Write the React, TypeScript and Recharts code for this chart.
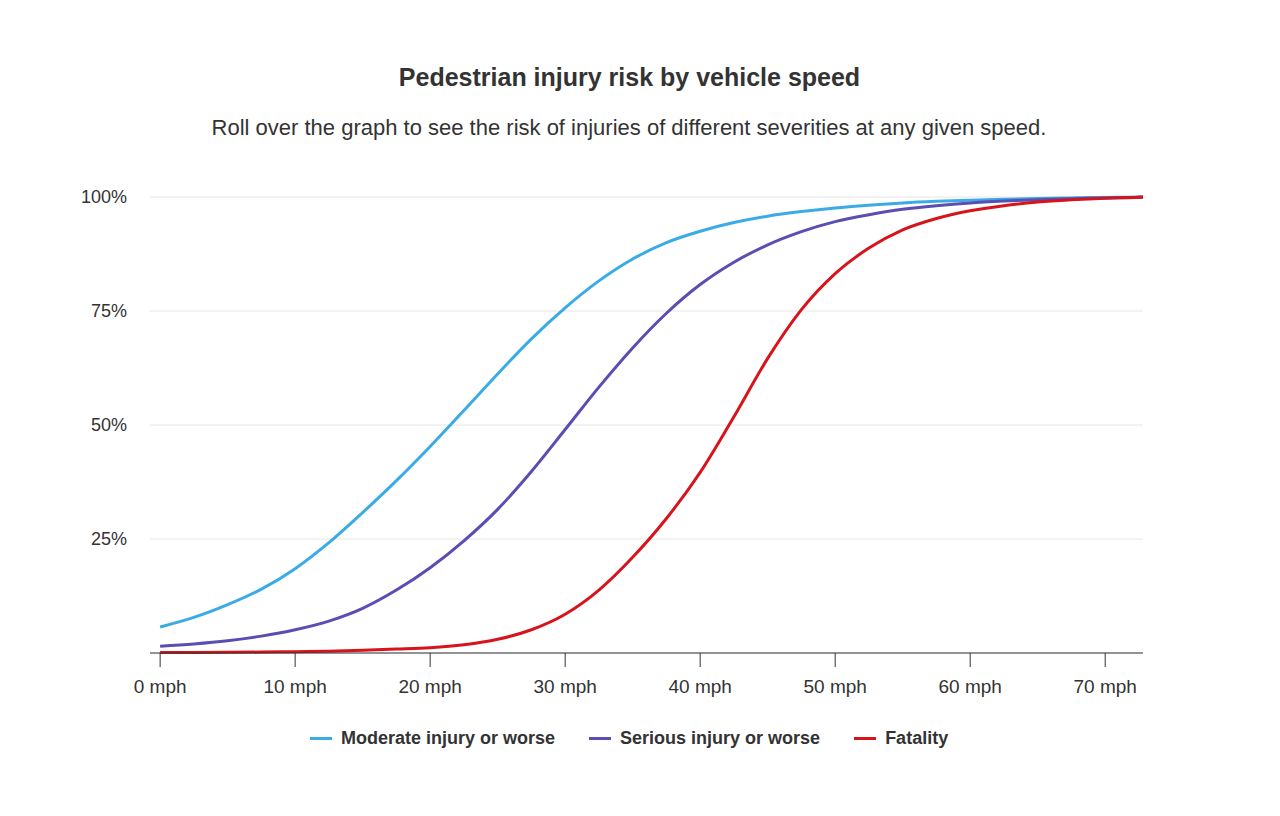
import React from 'react';
import { LineChart, Line, XAxis, YAxis, CartesianGrid } from 'recharts';

const speeds = [
  0, 2.5, 5, 7.5, 10, 12.5, 15, 17.5, 20, 22.5, 25, 27.5, 30, 32.5, 35, 37.5, 40,
  42.5, 45, 47.5, 50, 52.5, 55, 57.5, 60, 62.5, 65, 67.5, 70, 72.5, 72.8,
];

const moderate = [
  5.7, 7.8, 10.6, 14.0, 18.5, 24.2, 30.8, 37.8, 45.3, 53.2, 61.2, 68.9, 75.7, 81.6,
  86.4, 90.0, 92.5, 94.4, 95.8, 96.8, 97.6, 98.2, 98.7, 99.05, 99.3, 99.5, 99.65,
  99.8, 99.9, 100, 100,
];

const serious = [
  1.5, 2.0, 2.7, 3.7, 5.1, 7.0, 9.8, 13.8, 18.7, 24.6, 31.5, 39.8, 49.0, 58.3, 66.9,
  74.5, 80.8, 85.7, 89.5, 92.4, 94.6, 96.1, 97.3, 98.1, 98.7, 99.1, 99.4, 99.6,
  99.8, 99.95, 100,
];

const fatality = [
  0.1, 0.12, 0.15, 0.2, 0.3, 0.4, 0.6, 0.85, 1.15, 1.8, 3.0, 5.1, 8.5, 13.8, 21.0,
  29.5, 39.6, 51.8, 64.6, 75.3, 83.2, 88.8, 92.8, 95.3, 97.0, 98.1, 98.9, 99.4,
  99.75, 99.95, 100,
];

const xTicks = [0, 10, 20, 30, 40, 50, 60, 70];
const yTicks = [0, 25, 50, 75, 100];

const seriesNames = ['Moderate injury or worse', 'Serious injury or worse', 'Fatality'];
const seriesColors = ['#3aabe5', '#5a4db3', '#d7141c'];

const data = speeds.map((s, i) => ({
  speed: s,
  moderate: moderate[i],
  serious: serious[i],
  fatality: fatality[i],
}));

const font = '"Liberation Sans", Arial, sans-serif';

export default function App() {
  return (
    <div
      style={{
        position: 'absolute',
        left: 0,
        top: 0,
        width: 1280,
        height: 816,
        background: '#fff',
        fontFamily: font,
        color: '#333',
      }}
    >
      <div
        style={{
          position: 'absolute',
          top: 62,
          left: 0,
          width: 1259,
          textAlign: 'center',
          fontSize: 25,
          fontWeight: 'bold',
          lineHeight: '30px',
        }}
      >
        Pedestrian injury risk by vehicle speed
      </div>
      <div
        style={{
          position: 'absolute',
          top: 115,
          left: 0,
          width: 1258,
          textAlign: 'center',
          fontSize: 22,
          lineHeight: '26px',
        }}
      >
        Roll over the graph to see the risk of injuries of different severities at any given speed.
      </div>

      <LineChart
        width={1280}
        height={816}
        data={data}
        margin={{ top: 197, right: 137, left: 80, bottom: 123 }}
        style={{ position: 'absolute', left: 0, top: 0 }}
      >
        <CartesianGrid vertical={false} stroke="#e6e6e6" strokeWidth={1} />
        <XAxis
          dataKey="speed"
          type="number"
          domain={[-0.75, 72.8]}
          ticks={xTicks}
          tickFormatter={(v) => `${v} mph`}
          height={40}
          stroke="#333"
          tickSize={14}
          tickMargin={13}
          tick={{ fill: '#333', fontSize: 19, fontFamily: font }}
        />
        <YAxis
          type="number"
          domain={[0, 100]}
          ticks={yTicks}
          tickFormatter={(v) => (v === 0 ? '' : `${v}%`)}
          width={70}
          axisLine={false}
          tickLine={false}
          tickSize={6}
          tickMargin={17}
          tick={{ fill: '#333', fontSize: 18, fontFamily: font }}
        />
        <Line
          type="monotone"
          dataKey="moderate"
          stroke={seriesColors[0]}
          strokeWidth={3}
          dot={false}
          isAnimationActive={false}
        />
        <Line
          type="monotone"
          dataKey="serious"
          stroke={seriesColors[1]}
          strokeWidth={3}
          dot={false}
          isAnimationActive={false}
        />
        <Line
          type="monotone"
          dataKey="fatality"
          stroke={seriesColors[2]}
          strokeWidth={3}
          dot={false}
          isAnimationActive={false}
        />
      </LineChart>

      <div
        style={{
          position: 'absolute',
          top: 727,
          left: 310,
          display: 'flex',
          alignItems: 'center',
          fontSize: 18,
          fontWeight: 'bold',
          lineHeight: '22px',
          color: '#333',
        }}
      >
        {seriesNames.map((name, i) => (
          <div key={name} style={{ display: 'flex', alignItems: 'center', marginRight: 34 }}>
            <span
              style={{
                display: 'inline-block',
                width: 22,
                height: 3,
                background: seriesColors[i],
                marginRight: 9,
              }}
            />
            {name}
          </div>
        ))}
      </div>
    </div>
  );
}
